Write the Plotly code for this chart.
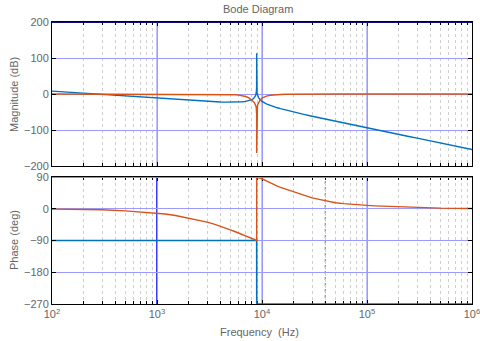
import plotly.graph_objects as go

# ---- data ----
freq_hz = [100, 150, 200, 300, 500, 700, 1000, 1200, 1500, 2000, 2500, 3000, 3500,
           4000, 4500, 5000, 5500, 6000, 6500, 7000, 7500, 8000, 8300, 8500, 8650,
           8750, 8820, 8860, 8890, 8900, 8910, 8940, 8980, 9050, 9150, 9300, 9600,
           10000, 11000, 12000, 13000, 14000, 15000, 17000, 20000, 25000, 30000,
           35000, 40000, 50000, 60000, 70000, 85000, 100000, 120000, 150000, 200000,
           250000, 300000, 400000, 500000, 700000, 1000000]

mag_blue_db = [8.0, 4.5, 2.0, -1.5, -5.9, -8.85, -11.9, -13.4, -15.3, -17.6, -19.25,
               -20.5, -21.4, -22.1, -22.5, -22.7, -22.6, -22.3, -21.6, -20.5, -18.8,
               -15.7, -12.7, -9.5, -5.6, -1.3, 4.0, 10.0, 22.0, 113.0, 22.0, 9.9, 3.8,
               -1.8, -6.3, -10.6, -15.9, -20.4, -27.3, -31.8, -35.4, -38.3, -40.8,
               -45.1, -50.2, -56.7, -61.9, -66.1, -69.7, -75.7, -80.5, -84.6, -89.7,
               -94.0, -98.7, -104.6, -112.1, -117.9, -122.6, -130.1, -136.0, -144.7,
               -154.0]

mag_orange_db = [0, 0, 0, 0, 0, 0, -0.05, -0.07, -0.1, -0.2, -0.3, -0.4, -0.6, -0.8,
                 -1.1, -1.4, -2.0, -3.0, -5.0, -7.0, -11.0, -17.0, -21.5, -25.5, -29.5,
                 -33.5, -39.0, -45.0, -57.0, -164.0, -57.0, -45.0, -39.0, -33.0, -28.0,
                 -23.5, -17.0, -11.5, -6.0, -3.6, -2.5, -1.8, -1.4, -0.9, -0.5, -0.25,
                 -0.15, -0.1, -0.08, -0.05, -0.03, -0.02, 0, 0, 0, 0, 0, 0, 0, 0, 0,
                 0, 0]

phase_blue_deg = [-90, -90, -90, -90, -90, -90, -90, -90, -90, -90, -90, -90, -90,
                  -90, -90, -90, -90, -90, -90, -90, -90, -90, -90, -90, -90, -90,
                  -90, -90, -90, -90, -270, -270, -270, -270, -270, -270, -270,
                  -270, -270, -270, -270, -270, -270, -270, -270, -270, -270, -270,
                  -270, -270, -270, -270, -270, -270, -270, -270, -270, -270, -270,
                  -270, -270, -270, -270]

phase_orange_deg = [-1, -1.5, -2, -3, -6, -9, -13, -15, -19, -26, -32, -38, -43.5,
                    -49, -54.5, -60, -64.5, -69, -73, -77, -80, -84, -86.5, -88, -89,
                    -89.5, -89.8, -89.9, -90, -90, 90, 89.9, 89.8, 89.5, 89, 88, 87,
                    85, 79, 73, 68.5, 64, 60.5, 55, 48, 38, 31, 26.5, 23, 17, 14.5,
                    12.5, 10.8, 9.5, 8.2, 7, 5.5, 4.8, 4, 2.8, 1.7, 1.2, 0.8]

major_x = [100, 1000, 10000, 100000, 1000000]
major_x_text = ["10<sup>2</sup>", "10<sup>3</sup>", "10<sup>4</sup>",
                "10<sup>5</sup>", "10<sup>6</sup>"]
minor_x = [m * d for d in (100, 1000, 10000, 100000) for m in range(2, 10)]
mag_ticks = [-200, -100, 0, 100, 200]
phase_ticks = [-270, -180, -90, 0, 90]

BLUE = "#0072BD"
ORANGE = "#D95319"
GRID = "#9a9aff"
MINOR = "#cfcfcf"
TXT = "#666666"
FONT = "Liberation Sans"

fig = go.Figure()
fig.add_trace(go.Scatter(x=freq_hz, y=mag_blue_db, mode="lines",
                         line=dict(color=BLUE, width=1.4), xaxis="x", yaxis="y"))
fig.add_trace(go.Scatter(x=freq_hz, y=mag_orange_db, mode="lines",
                         line=dict(color=ORANGE, width=1.4), xaxis="x", yaxis="y"))
fig.add_trace(go.Scatter(x=freq_hz, y=phase_blue_deg, mode="lines", cliponaxis=False,
                         line=dict(color=BLUE, width=1.6), xaxis="x2", yaxis="y2"))
fig.add_trace(go.Scatter(x=freq_hz, y=phase_orange_deg, mode="lines",
                         line=dict(color=ORANGE, width=1.4), xaxis="x2", yaxis="y2"))

H_TOP_BOTTOM = (304 - 166) / 282
H_BOT_TOP = (304 - 177) / 282

xcommon = dict(type="log", range=[2, 6], tickvals=major_x, ticks="inside", ticklen=4,
               tickcolor="black", showline=True, linecolor="black", linewidth=1,
               mirror="ticks", showgrid=True, gridcolor=GRID, gridwidth=1,
               zeroline=False, automargin=False,
               minor=dict(tickvals=minor_x, ticks="inside", ticklen=3,
                          tickcolor="black", showgrid=True, gridcolor=MINOR,
                          griddash="dot", gridwidth=1),
               tickfont=dict(family=FONT, size=11, color=TXT))
ycommon = dict(ticks="inside", ticklen=4, tickcolor="black", showline=True,
               linecolor="black", linewidth=1, mirror="ticks", showgrid=True,
               gridcolor=GRID, gridwidth=1, zeroline=False, automargin=False,
               tickfont=dict(family=FONT, size=11, color=TXT))

fig.update_layout(
    width=480, height=341, autosize=False,
    margin=dict(l=52, r=8, t=22, b=37),
    paper_bgcolor="white", plot_bgcolor="white", showlegend=False,
    xaxis=dict(xcommon, domain=[0, 1], anchor="y", showticklabels=False),
    yaxis=dict(ycommon, domain=[H_TOP_BOTTOM, 1], anchor="x", range=[-200, 200],
               tickvals=mag_ticks),
    xaxis2=dict(xcommon, domain=[0, 1], anchor="y2", ticktext=major_x_text,
                layer="below traces", ticklabeloverflow="allow"),
    yaxis2=dict(ycommon, domain=[0, H_BOT_TOP], anchor="x2", range=[-270, 90],
                tickvals=phase_ticks),
)

# bluish major vertical grid lines
for xv in major_x[1:-1]:
    for xr, yr in (("x", "y domain"), ("x2", "y2 domain")):
        fig.add_shape(type="line", xref=xr, yref=yr, x0=xv, x1=xv, y0=0, y1=1,
                      line=dict(color=GRID, width=1.2), layer="below")

# frame accents seen in the reference
fig.add_shape(type="line", xref="x domain", yref="y", x0=0, x1=1, y0=200, y1=200,
              line=dict(color="#10107a", width=2))
fig.add_shape(type="line", xref="x2 domain", yref="y2", x0=0, x1=1, y0=90, y1=90,
              line=dict(color="#8a8ae0", width=2))
fig.add_shape(type="line", xref="x2", yref="y2 domain", x0=1000, x1=1000, y0=0, y1=1,
              line=dict(color="#1010ff", width=1.5), layer="below")
fig.add_shape(type="line", xref="x2", yref="y2 domain", x0=40000, x1=40000, y0=0, y1=1,
              line=dict(color="#777777", width=1, dash="dot"), layer="below")

def px_x(px):
    return (px - 52) / 420

def px_y(py):
    return (304 - py) / 282

fig.add_annotation(text="Bode Diagram", xref="paper", yref="paper",
                   x=px_x(258), y=px_y(9), xanchor="center", yanchor="middle",
                   showarrow=False, font=dict(family=FONT, size=11, color=TXT))
fig.add_annotation(text="Magnitude (dB)", xref="paper", yref="paper",
                   x=px_x(14), y=px_y(95), xanchor="center", yanchor="middle",
                   textangle=-90, showarrow=False,
                   font=dict(family=FONT, size=11, color=TXT))
fig.add_annotation(text="Phase (deg)", xref="paper", yref="paper",
                   x=px_x(14), y=px_y(240), xanchor="center", yanchor="middle",
                   textangle=-90, showarrow=False,
                   font=dict(family=FONT, size=11, color=TXT))
fig.add_annotation(text="Frequency \u00a0(Hz)", xref="paper", yref="paper",
                   x=px_x(259), y=px_y(332), xanchor="center", yanchor="middle",
                   showarrow=False, font=dict(family=FONT, size=11, color=TXT))

fig.write_html("out.html")
